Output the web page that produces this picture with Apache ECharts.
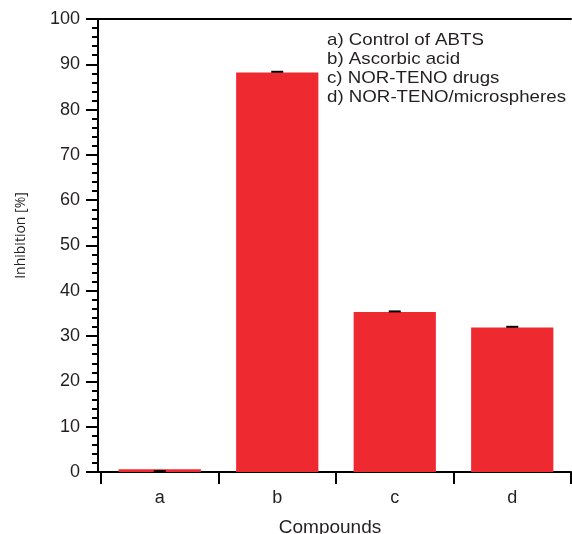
<!DOCTYPE html>
<html>
<head>
<meta charset="utf-8">
<script src="https://cdn.jsdelivr.net/npm/echarts@6/dist/echarts.min.js"></script>
<style>html,body{margin:0;padding:0;background:#fff;}#c{width:572px;height:534px;}</style>
</head>
<body>
<div id="c"></div>
<script>
const categories = ['a', 'b', 'c', 'd'];
const inhibition = [0.6, 88.2, 35.3, 31.9];
const errorTop = [0.2, 88.35, 35.45, 32.05];
const legendLines = ['a) Control of ABTS', 'b) Ascorbic acid', 'c) NOR-TENO drugs', 'd) NOR-TENO/microspheres'];
const yTitle = 'Inhibition [%]';
const xTitle = 'Compounds';

const FONT = '"Liberation Sans", Arial, sans-serif';
const TXT = '#231f20';
const chart = echarts.init(document.getElementById('c'));
chart.setOption({
  animation: false,
  grid: [
    {left: 98, right: 1, top: 19, bottom: 62, containLabel: false, outerBoundsMode: 'none'},
    {left: 101, right: 1, top: 19, bottom: 62, containLabel: false, outerBoundsMode: 'none'}
  ],
  xAxis: [
    {gridIndex: 0, type: 'category', data: categories, position: 'bottom',
      axisLine: {show: true, lineStyle: {color: '#000', width: 2}},
      axisTick: {show: false}, axisLabel: {show: false}, splitLine: {show: false}},
    {gridIndex: 0, type: 'category', data: categories, position: 'top',
      axisLine: {show: true, lineStyle: {color: '#000', width: 2}},
      axisTick: {show: false}, axisLabel: {show: false}, splitLine: {show: false}},
    {gridIndex: 1, type: 'category', data: categories, position: 'bottom',
      axisLine: {show: false},
      axisTick: {show: true, inside: false, length: 12, lineStyle: {color: '#000', width: 2}},
      axisLabel: {margin: 17, fontSize: 18, fontFamily: FONT, color: TXT},
      name: xTitle, nameLocation: 'middle', nameGap: 46,
      nameTextStyle: {fontSize: 19, fontFamily: FONT, color: TXT, padding: [0, 12, 0, 0]},
      splitLine: {show: false}}
  ],
  yAxis: [
    {gridIndex: 0, type: 'value', min: 0, max: 100, interval: 10,
      axisLine: {show: true, lineStyle: {color: '#000', width: 2}},
      axisTick: {show: true, inside: false, length: 12, lineStyle: {color: '#000', width: 2}},
      minorTick: {show: true, splitNumber: 5, length: 6, lineStyle: {color: '#000', width: 2}},
      axisLabel: {margin: 18, fontSize: 18, fontFamily: FONT, color: TXT},
      name: yTitle, nameLocation: 'middle', nameGap: 70, nameRotate: 90,
      nameTextStyle: {fontSize: 14, fontFamily: '"Open Sans", sans-serif', color: TXT, padding: [0, 0, 0, 20]},
      splitLine: {show: false}},
    {gridIndex: 1, type: 'value', min: 0, max: 100, interval: 10, show: false, splitLine: {show: false}}
  ],
  series: [
    {type: 'bar', xAxisIndex: 2, yAxisIndex: 1, data: inhibition, barWidth: '70%',
      itemStyle: {color: '#ee2a30'}, z: 2},
    {type: 'custom', xAxisIndex: 2, yAxisIndex: 1, z: 3,
      data: categories.map((c, i) => [i, errorTop[i]]),
      renderItem: function (params, api) {
        const p = api.coord([api.value(0), api.value(1)]);
        return {type: 'line', shape: {x1: p[0] - 6, y1: p[1], x2: p[0] + 6, y2: p[1]},
          style: {stroke: '#000', lineWidth: 2}};
      }}
  ],
  graphic: [
    {type: 'text', x: 327, y: 31, scaleX: 1.1,
      style: {text: legendLines.join('\n'), fontSize: 17, lineHeight: 19, fontFamily: FONT, fill: TXT}}
  ]
});
</script>
</body>
</html>
